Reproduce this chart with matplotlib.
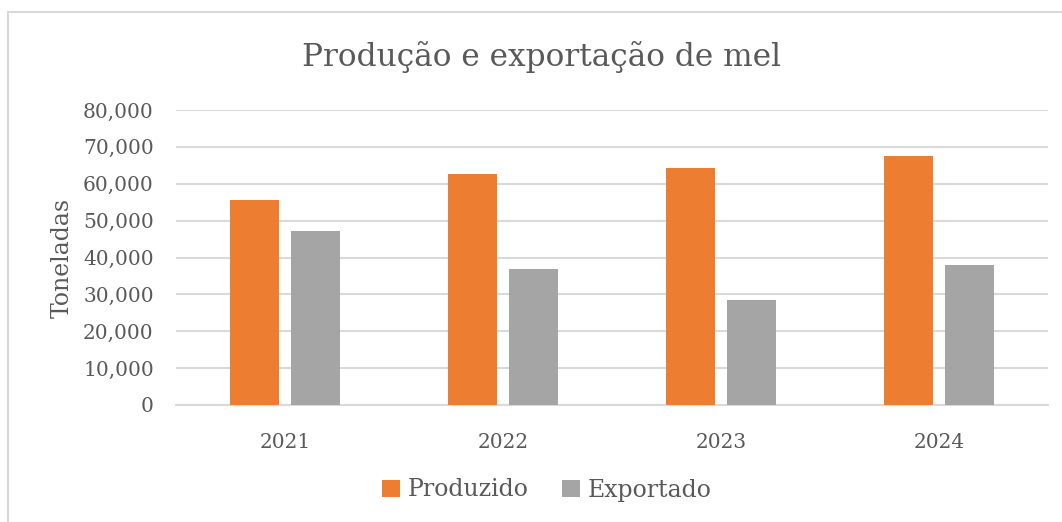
import matplotlib.pyplot as plt
import numpy as np
from matplotlib.ticker import FuncFormatter

# values (tonnes)
anos = ['2021', '2022', '2023', '2024']
produzido = [55700, 62600, 64200, 67400]
exportado = [47200, 36900, 28600, 37900]

plt.rcParams['font.family'] = ['DejaVu Serif']
txt = '#595959'
grid = '#D9D9D9'

fig = plt.figure(figsize=(10.62, 5.22), dpi=100)
ax = fig.add_axes([176 / 1062, 1 - 405 / 522, 872 / 1062, 295 / 522])

x = np.arange(len(anos))
w = 0.225
off = 0.141
ax.bar(x - off, produzido, w, color='#ED7D31', label='Produzido', zorder=3)
ax.bar(x + off, exportado, w, color='#A5A5A5', label='Exportado', zorder=3)

ax.set_xlim(-0.5, 3.5)
ax.set_ylim(0, 80000)
ax.set_yticks(np.arange(0, 80001, 10000))
ax.yaxis.set_major_formatter(FuncFormatter(lambda v, p: f'{int(v):,}'))
ax.set_xticks(x)
ax.set_xticklabels(anos)
ax.tick_params(length=0, colors=txt)
ax.tick_params(axis='y', pad=16, labelsize=14.5)
ax.tick_params(axis='x', pad=20, labelsize=14.5)
ax.grid(axis='y', color=grid, lw=1.5, zorder=0)
for s in ['top', 'right', 'left']:
    ax.spines[s].set_visible(False)
ax.spines['bottom'].set_color(grid)
ax.spines['bottom'].set_linewidth(1.5)

ax.set_ylabel('Toneladas', color=txt, fontsize=17, labelpad=7)
fig.text(541 / 1062, 1 - 57 / 522, 'Produção e exportação de mel', ha='center', va='center',
         color=txt, fontsize=22.5)

fig.legend(loc='center', bbox_to_anchor=(547 / 1062, 1 - 490 / 522), ncol=2, frameon=False,
           fontsize=17, labelcolor=txt, handlelength=0.75, handleheight=0.75, columnspacing=1.4,
           handletextpad=0.35)

# outer chart frame
fig.patches.append(plt.Rectangle((8 / 1062, -0.01), 1.05, 1 - 12 / 522 + 0.01, transform=fig.transFigure,
                                 fill=False, edgecolor=grid, lw=1.5))

fig.savefig('out.png', dpi=100)
